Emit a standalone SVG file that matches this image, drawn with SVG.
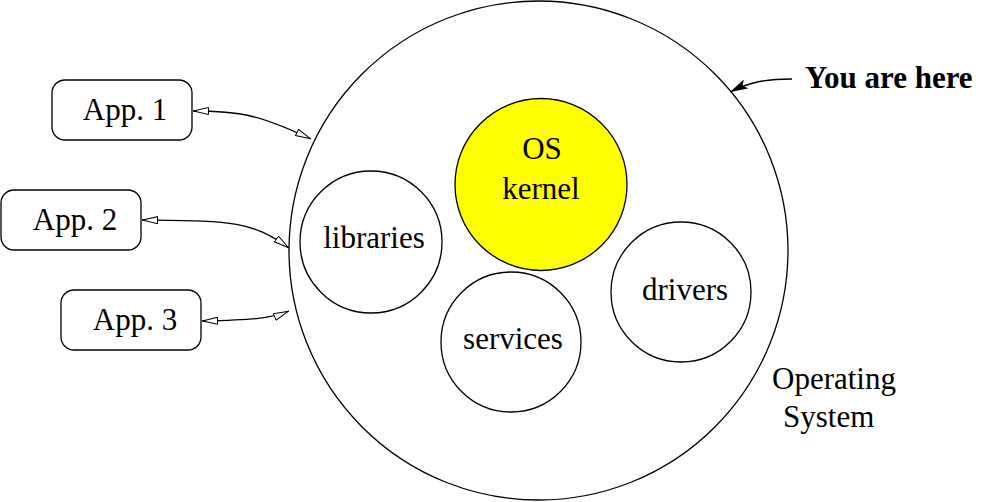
<svg xmlns="http://www.w3.org/2000/svg" width="988" height="502" viewBox="0 0 988 502">
<style>
text{font-family:"Liberation Serif","Times New Roman",serif;font-size:31px;fill:#000;text-anchor:middle}
.s{fill:#fff;stroke:#000;stroke-width:1.3}
.c{fill:none;stroke:#000;stroke-width:1.3}
</style>
<defs>
<marker id="oa" viewBox="0 0 16 8" refX="16" refY="4" markerWidth="16" markerHeight="8" markerUnits="userSpaceOnUse" orient="auto-start-reverse">
<path d="M0.5,0.5 L15.5,4 L0.5,7.5 Z" fill="#fff" stroke="#000" stroke-width="1"/>
</marker>
<marker id="fa" viewBox="0 0 18 10" refX="18" refY="5" markerWidth="18" markerHeight="10" markerUnits="userSpaceOnUse" orient="auto">
<path d="M0,0 L18,5 L0,10 L4,5 Z" fill="#000"/>
</marker>
</defs>
<g id="os">
<circle class="s" cx="538.5" cy="250.5" r="249.5"/>
<text x="772" y="389" style="text-anchor:start">Operating</text>
<text x="783" y="427" style="text-anchor:start">System</text>
</g>
<g id="kernel">
<circle cx="541" cy="184.5" r="86" fill="#ffff00" stroke="#000" stroke-width="1.3"/>
<text x="542" y="159">OS</text>
<text x="541" y="199">kernel</text>
</g>
<g id="libraries">
<circle class="s" cx="371" cy="242" r="71"/>
<text x="374" y="248">libraries</text>
</g>
<g id="services">
<circle class="s" cx="511" cy="342" r="70"/>
<text x="513" y="349">services</text>
</g>
<g id="drivers">
<circle class="s" cx="681" cy="292" r="70"/>
<text x="685" y="300">drivers</text>
</g>
<g id="app1">
<rect class="s" x="52" y="80" width="140" height="60" rx="13"/>
<text x="125" y="120">App. 1</text>
</g>
<g id="app2">
<rect class="s" x="1" y="190" width="140" height="60" rx="13"/>
<text x="75" y="230">App. 2</text>
</g>
<g id="app3">
<rect class="s" x="61" y="290" width="140" height="60" rx="13"/>
<text x="135" y="330">App. 3</text>
</g>
<g id="here">
<text x="805" y="88" style="text-anchor:start;font-weight:bold">You are here</text>
</g>
<g id="connectors">
<path class="c" d="M193,111 C240,111 260,115 311,139" marker-start="url(#oa)" marker-end="url(#oa)"/>
<path class="c" d="M142,220 C230,221 250,220 289,248" marker-start="url(#oa)" marker-end="url(#oa)"/>
<path class="c" d="M202,321 C250,320 270,319 289,311" marker-start="url(#oa)" marker-end="url(#oa)"/>
<path class="c" d="M792,79 C765,79 750,82 730,92" marker-end="url(#fa)"/>
</g>
</svg>
